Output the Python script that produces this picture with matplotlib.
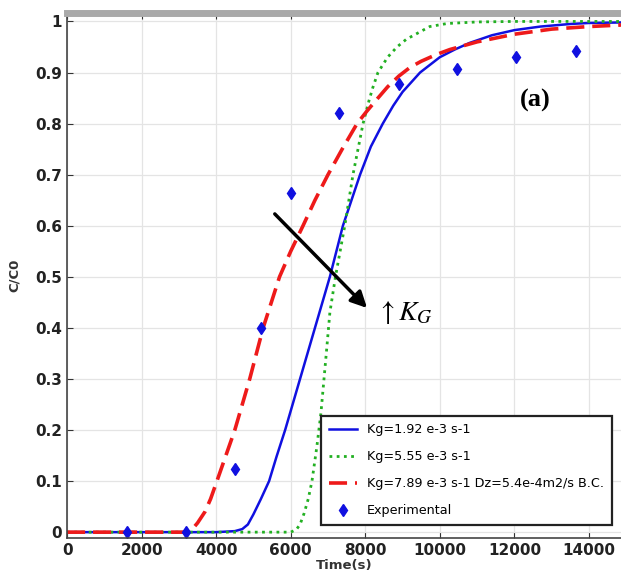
import matplotlib
matplotlib.use("Agg")
import matplotlib.pyplot as plt

plt.rcParams['mathtext.fontset'] = 'stix'

# Experimental data
exp_t = [1600, 3200, 4500, 5200, 6000, 7300, 8900, 10450, 12050, 13650]
exp_c = [0.0, 0.0, 0.123, 0.40, 0.665, 0.82, 0.877, 0.907, 0.930, 0.943]

# Kg = 1.92e-3 (blue solid)
blue_t = [0, 4000, 4500, 4700, 4850, 5000, 5200, 5420, 5620, 5850, 6250, 6650, 7050, 7400,
          7860, 8150, 8470, 8750, 9000, 9470, 10000, 10400, 10800, 11400, 12000,
          12700, 13500, 14000, 14860]
blue_c = [0.0, 0.0, 0.002, 0.006, 0.015, 0.035, 0.065, 0.10, 0.148, 0.20, 0.30, 0.40, 0.50, 0.60,
          0.70, 0.755, 0.80, 0.835, 0.862, 0.90, 0.93, 0.945, 0.958, 0.973, 0.983,
          0.990, 0.995, 0.997, 0.998]

# Kg = 5.55e-3 (green dotted)
green_t = [0, 6000, 6150, 6250, 6360, 6470, 6570, 6700, 6810, 6890, 6970, 7050, 7200,
           7450, 7670, 7940, 8100, 8200, 8340, 8600, 8850, 9100, 9730, 10200, 11000,
           12000, 14860]
green_c = [0.0, 0.0, 0.005, 0.015, 0.037, 0.065, 0.10, 0.167, 0.233, 0.298, 0.363, 0.43,
           0.50, 0.60, 0.70, 0.80, 0.845, 0.87, 0.90, 0.93, 0.95, 0.965, 0.99, 0.996,
           0.999, 1.0, 1.0]

# Kg = 7.89e-3, Dz=5.4e-4 (red dashed)
red_t = [0, 3200, 3350, 3500, 3700, 3850, 4020, 4500, 4900, 5260, 5700, 6000, 6330,
         6650, 7000, 7380, 7780, 8050, 8340, 8600, 8900, 9200, 9500, 9900, 10270,
         11000, 12000, 13000, 14000, 14860]
red_c = [0.0, 0.0, 0.005, 0.018, 0.04, 0.065, 0.10, 0.20, 0.30, 0.40, 0.50, 0.55, 0.60,
         0.65, 0.70, 0.75, 0.80, 0.825, 0.85, 0.872, 0.893, 0.91, 0.922, 0.935, 0.945,
         0.96, 0.975, 0.985, 0.99, 0.993]

labels = ["Kg=1.92 e-3 s-1", "Kg=5.55 e-3 s-1",
          "Kg=7.89 e-3 s-1 Dz=5.4e-4m2/s B.C.", "Experimental"]
xticks = [0, 2000, 4000, 6000, 8000, 10000, 12000, 14000]
yticks = [0, 0.1, 0.2, 0.3, 0.4, 0.5, 0.6, 0.7, 0.8, 0.9, 1]
ytick_labels = ["0", "0.1", "0.2", "0.3", "0.4", "0.5", "0.6", "0.7", "0.8", "0.9", "1"]

fig = plt.figure(figsize=(6.21, 5.77), dpi=100)
ax = fig.add_axes([0.108, 0.068, 0.892, 0.909])

ax.plot(blue_t, blue_c, color='#1010e0', lw=1.8, label=labels[0])
ax.plot(green_t, green_c, color='#22b022', lw=2.0, ls=(0, (1, 1.6)), label=labels[1])
ax.plot(red_t, red_c, color='#ee1a1a', lw=2.6, ls=(0, (5, 2.2)), label=labels[2])
ax.plot(exp_t, exp_c, ls='none', marker='d', color='#1010e0', ms=6.5, label=labels[3])

ax.set_xlim(0, 14860)
ax.set_ylim(-0.011, 1.016)
ax.set_xticks(xticks)
ax.set_xticklabels([str(v) for v in xticks])
ax.set_yticks(yticks)
ax.set_yticklabels(ytick_labels)
ax.grid(True, color='#e4e4e4', lw=0.9)
ax.set_axisbelow(True)
ax.tick_params(direction='in', top=True, length=4, labelsize=11, colors='#333333',
               labelcolor='#222222')
for lab in ax.get_xticklabels() + ax.get_yticklabels():
    lab.set_fontweight('bold')

for side in ['left', 'bottom']:
    ax.spines[side].set_color('#444444')
    ax.spines[side].set_linewidth(1.2)
ax.spines['top'].set_color('#aaaaaa')
ax.spines['top'].set_linewidth(5)
ax.spines['right'].set_visible(False)

ax.set_xlabel("Time(s)", fontsize=9.5, fontweight='bold', color='#333333', labelpad=1)
ax.set_ylabel("C/C0", fontsize=9.5, fontweight='bold', color='#333333', labelpad=10)

leg = ax.legend(loc='lower right', bbox_to_anchor=(0.995, 0.012), fontsize=9.2,
                frameon=True, fancybox=False, edgecolor='#222222', framealpha=1,
                handlelength=2.2, borderpad=0.6, labelspacing=1.1)
leg.get_frame().set_linewidth(1.6)

ax.annotate("", xy=(8100, 0.435), xytext=(5520, 0.627),
            arrowprops=dict(arrowstyle='-|>', lw=2.5, color='black', mutation_scale=24))
ax.text(8300, 0.432, r"$\uparrow K_G$", fontsize=20, va='center', ha='left')
ax.text(12550, 0.845, "(a)", fontsize=19, fontweight='bold', family='Liberation Serif',
        va='center', ha='center')

fig.savefig("out.png", dpi=100)
